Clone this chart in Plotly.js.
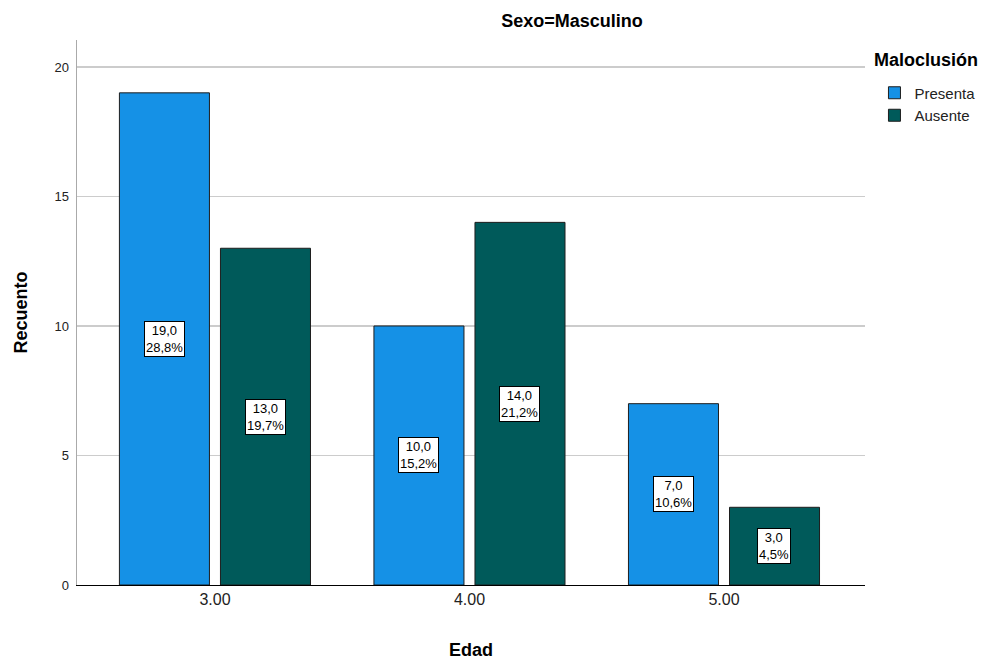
<!DOCTYPE html>
<html>
<head>
<meta charset="utf-8">
<script src="https://cdn.plot.ly/plotly-3.0.1.min.js"></script>
<style>html,body{margin:0;padding:0;background:#fff;}#chart{width:1005px;height:661px;}</style>
</head>
<body>
<div id="chart"></div>
<script>
const categories = ["3.00", "4.00", "5.00"];
const presenta = [19, 10, 7];
const ausente = [13, 14, 3];
const presentaPct = ["28,8%", "15,2%", "10,6%"];
const ausentePct = ["19,7%", "21,2%", "4,5%"];

const font = "Liberation Sans, Arial, sans-serif";
const colP = "#1591e6";
const colA = "#005a5a";

const traces = [
  {type: "bar", name: "Presenta", x: categories, y: presenta,
   marker: {color: colP, line: {color: "#1e1e1e", width: 1}}, hoverinfo: "y"},
  {type: "bar", name: "Ausente", x: categories, y: ausente,
   marker: {color: colA, line: {color: "#1e1e1e", width: 1}}, hoverinfo: "y"}
];

const fmt = v => v.toFixed(1).replace(".", ",");
const annotations = [];
const shiftPx = 50.5;
categories.forEach((c, i) => {
  annotations.push({x: i, y: presenta[i] / 2, xref: "x", yref: "y", xshift: -shiftPx,
    text: fmt(presenta[i]) + "<br>" + presentaPct[i], showarrow: false,
    bgcolor: "#ffffff", bordercolor: "#000000", borderwidth: 1, borderpad: 1,
    font: {family: font, size: 13, color: "#000"}});
  annotations.push({x: i, y: ausente[i] / 2, xref: "x", yref: "y", xshift: shiftPx,
    text: fmt(ausente[i]) + "<br>" + ausentePct[i], showarrow: false,
    bgcolor: "#ffffff", bordercolor: "#000000", borderwidth: 1, borderpad: 1,
    font: {family: font, size: 13, color: "#000"}});
});
annotations.push({xref: "paper", yref: "paper", x: 1.009, y: 1.0, xanchor: "left", yanchor: "top",
  yshift: -8,
  text: "<b>Maloclusión</b>", showarrow: false, font: {family: font, size: 18, color: "#000"}});

const layout = {
  width: 1005, height: 661,
  margin: {l: 77, r: 140, t: 40, b: 76},
  paper_bgcolor: "#fff", plot_bgcolor: "#fff",
  font: {family: font, color: "#000"},
  title: {text: "<b>Sexo=Masculino</b>", x: 572 / 1005, xref: "container", xanchor: "center",
    y: 1 - 21 / 661, yref: "container", yanchor: "middle",
    font: {family: font, size: 18, color: "#000"}},
  barmode: "group", bargap: 0.206, bargroupgap: 0.109,
  xaxis: {type: "category", range: [-0.542, 2.554], showgrid: false, zeroline: false,
    showline: true, linecolor: "#000", linewidth: 1, ticks: "",
    tickfont: {family: font, size: 16, color: "#222"},
    title: {text: "<b>Edad</b>", font: {family: font, size: 18, color: "#000"}, standoff: 36}},
  yaxis: {range: [0, 21.04], tickvals: [0, 5, 10, 15, 20], showgrid: true, gridcolor: "#cccccc",
    gridwidth: 1.5, zeroline: false, showline: true, linecolor: "#aaaaaa", linewidth: 1.5, ticks: "",
    ticklabelstandoff: 4,
    tickfont: {family: font, size: 13, color: "#222"},
    title: {text: "<b>Recuento</b>", font: {family: font, size: 18, color: "#000"}, standoff: 22}},
  legend: {x: 1.012, y: 0.933, xanchor: "left", yanchor: "top", bgcolor: "rgba(0,0,0,0)",
    font: {family: font, size: 15, color: "#222"}, tracegroupgap: 0, itemwidth: 30},
  showlegend: true,
  annotations: annotations
};

Plotly.newPlot("chart", traces, layout, {displayModeBar: false, staticPlot: true});
</script>
</body>
</html>
